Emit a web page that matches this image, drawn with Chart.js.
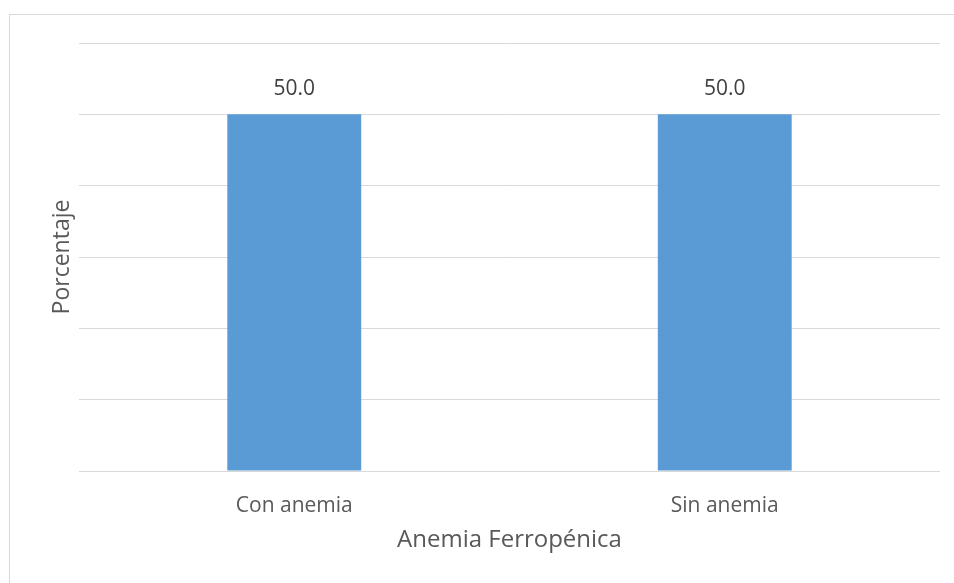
<!DOCTYPE html>
<html>
<head>
<meta charset="utf-8">
<script src="https://cdn.jsdelivr.net/npm/chart.js@4"></script>
<style>
    body { margin: 0; background: #ffffff; overflow: hidden; }
    #frame {
        position: absolute; left: 9px; top: 14px;
        width: 980px; height: 620px;
        border: 1px solid #d9d9d9;
    }
    #barChart { position: absolute; left: 0; top: 0; }
</style>
</head>
<body>
<div id="frame"></div>
<canvas id="barChart" width="954" height="583"></canvas>
<script>
// Data
const categories = ['Con anemia', 'Sin anemia'];
const porcentajes = [50.0, 50.0];
const yMin = 0;
const yMax = 60;
const yStep = 10;

const textFont = 'Open Sans';

// Draws the value above every bar
const valueLabels = {
    id: 'valueLabels',
    afterDatasetsDraw(chart) {
        const ctx = chart.ctx;
        const meta = chart.getDatasetMeta(0);
        ctx.save();
        ctx.font = '21px "' + textFont + '"';
        ctx.fillStyle = '#404040';
        ctx.textAlign = 'center';
        ctx.textBaseline = 'middle';
        meta.data.forEach((bar, i) => {
            ctx.fillText(porcentajes[i].toFixed(1), bar.x, bar.y - 25);
        });
        ctx.restore();
    }
};

const barCtx = document.getElementById('barChart').getContext('2d');
const barChart = new Chart(barCtx, {
    type: 'bar',
    data: {
        labels: categories,
        datasets: [{
            data: porcentajes,
            backgroundColor: '#5b9bd5',
            borderWidth: 0,
            categoryPercentage: 1,
            barPercentage: 0.311
        }]
    },
    options: {
        responsive: false,
        animation: false,
        layout: {
            padding: { top: 43, right: 14, left: 0, bottom: 0 }
        },
        plugins: {
            legend: { display: false },
            tooltip: { enabled: false }
        },
        scales: {
            x: {
                grid: { display: false },
                border: { display: false },
                ticks: {
                    color: '#595959',
                    padding: 14,
                    font: { family: textFont, size: 21 }
                },
                title: {
                    display: true,
                    text: 'Anemia Ferropénica',
                    color: '#595959',
                    font: { family: textFont, size: 24 },
                    padding: { top: 0, bottom: 28 }
                },
                afterFit(scale) {
                    scale.height = 112;
                }
            },
            y: {
                min: yMin,
                max: yMax,
                ticks: { stepSize: yStep, display: false },
                grid: { color: '#d9d9d9', drawTicks: false },
                border: { display: false },
                title: {
                    display: true,
                    text: 'Porcentaje',
                    color: '#595959',
                    font: { family: textFont, size: 23 },
                    padding: { top: 49, bottom: 0 }
                },
                afterFit(scale) {
                    scale.width = 79;
                }
            }
        }
    },
    plugins: [valueLabels]
});
</script>
</body>
</html>
